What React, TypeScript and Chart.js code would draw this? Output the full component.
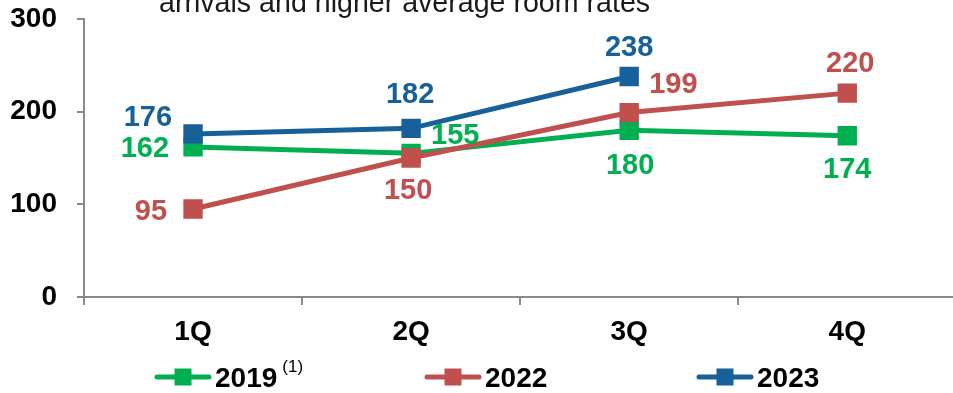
import React, { useEffect, useRef } from "react";
import { Chart, registerables } from "chart.js";

Chart.register(...registerables);

// ---- data ----
const quarters = ["1Q", "2Q", "3Q", "4Q"];
const series2019 = [162, 155, 180, 174];
const series2022 = [95, 150, 199, 220];
const series2023 = [176, 182, 238];
const yTickValues = [0, 100, 200, 300];
const seriesNames = ["2019", "2022", "2023"];
const headerText = "arrivals and higher average room rates";
const footnoteMark = "(1)";

// ---- styles ----
const GREEN = "#00B050";
const RED = "#C0504D";
const BLUE = "#17609A";
const AXIS = "#8A8A8A";
const FONT = "'Liberation Sans', Arial, sans-serif";

// label placement relative to each point: [dx, dy, textAlign]
const labelPos2019: [number, number, CanvasTextAlign][] = [
  [-24, 0, "right"],
  [20, -20, "left"],
  [1, 33, "center"],
  [0, 32, "center"],
];
const labelPos2022: [number, number, CanvasTextAlign][] = [
  [-26, 1, "right"],
  [-3, 31, "center"],
  [20, -30, "left"],
  [3, -32, "center"],
];
const labelPos2023: [number, number, CanvasTextAlign][] = [
  [-21, -18, "right"],
  [-1, -36, "center"],
  [0, -31, "center"],
];
const legendX = [155, 425, 697];

export default function App() {
  const ref = useRef<HTMLCanvasElement | null>(null);

  useEffect(() => {
    if (!ref.current) return;
    const labelPositions = [labelPos2019, labelPos2022, labelPos2023];

    const dataLabels = {
      id: "dataLabels",
      afterDatasetsDraw(chart: any) {
        const ctx = chart.ctx;
        ctx.save();
        ctx.font = `bold 29px ${FONT}`;
        ctx.textBaseline = "alphabetic";
        chart.data.datasets.forEach((ds: any, di: number) => {
          const meta = chart.getDatasetMeta(di);
          meta.data.forEach((pt: any, i: number) => {
            const v = ds.data[i];
            if (v == null) return;
            const [dx, dy, align] = labelPositions[di][i];
            ctx.fillStyle = ds.borderColor;
            ctx.textAlign = align;
            ctx.fillText(String(v), pt.x + dx, pt.y + dy + 10.4);
          });
        });
        ctx.restore();
      },
    };

    const extras = {
      id: "extras",
      afterDraw(chart: any) {
        const ctx = chart.ctx;
        ctx.save();
        // header (cut-off slide text)
        ctx.font = `28.6px ${FONT}`;
        ctx.fillStyle = "#1a1a1a";
        ctx.textAlign = "left";
        ctx.textBaseline = "alphabetic";
        ctx.fillText(headerText, 159, 12);
        // legend
        const ly = 377;
        chart.data.datasets.forEach((ds: any, di: number) => {
          const x = legendX[di];
          ctx.strokeStyle = ds.borderColor;
          ctx.lineWidth = 5;
          ctx.lineCap = "round";
          ctx.beginPath();
          ctx.moveTo(x + 2, ly);
          ctx.lineTo(x + 54, ly);
          ctx.stroke();
          ctx.fillStyle = ds.borderColor;
          ctx.fillRect(x + 28 - 8.5, ly - 8.5, 17, 17);
          ctx.fillStyle = "#000";
          ctx.font = `bold 28px ${FONT}`;
          ctx.textAlign = "left";
          ctx.fillText(ds.label, x + 60, ly + 10);
          if (di === 0) {
            const w = ctx.measureText(ds.label).width;
            ctx.font = `17px ${FONT}`;
            ctx.fillText(footnoteMark, x + 60 + w + 5, ly - 5);
          }
        });
        ctx.restore();
      },
    };

    const mk = (label: string, data: number[], color: string, order: number) => ({
      label,
      data,
      borderColor: color,
      backgroundColor: color,
      borderWidth: 5,
      tension: 0,
      pointStyle: "rect",
      pointRadius: 13.7,
      pointHoverRadius: 13.7,
      pointBorderWidth: 0,
      pointBackgroundColor: color,
      order,
    });

    const chart = new Chart(ref.current, {
      type: "line",
      data: {
        labels: quarters,
        datasets: [
          mk(seriesNames[0], series2019, GREEN, 2),
          mk(seriesNames[1], series2022, RED, 1),
          mk(seriesNames[2], series2023, BLUE, 0),
        ],
      },
      options: {
        responsive: false,
        animation: false,
        devicePixelRatio: 1,
        layout: { padding: { top: 19, right: 8, left: 0, bottom: 0 } },
        plugins: {
          legend: { display: false },
          tooltip: { enabled: false },
          title: { display: false },
        },
        scales: {
          x: {
            type: "category",
            offset: true,
            grid: {
              offset: true,
              drawOnChartArea: false,
              drawTicks: true,
              tickLength: 8,
              color: AXIS,
              lineWidth: 2,
            },
            border: { color: AXIS, width: 2 },
            ticks: {
              padding: 10,
              color: "#000",
              font: { family: FONT, size: 28, weight: "bold" },
            },
            afterFit: (scale: any) => {
              scale.height = 96;
              scale.paddingLeft = 0;
              scale.paddingRight = 0;
            },
          },
          y: {
            min: 0,
            max: 300,
            afterBuildTicks: (scale: any) => {
              scale.ticks = yTickValues.map((v) => ({ value: v }));
            },
            grid: {
              drawOnChartArea: false,
              drawTicks: true,
              tickLength: 7,
              color: AXIS,
              lineWidth: 2,
            },
            border: { color: AXIS, width: 2 },
            ticks: {
              padding: 20,
              color: "#000",
              font: { family: FONT, size: 28, weight: "bold" },
            },
            afterFit: (scale: any) => {
              scale.width = 84;
              scale.paddingTop = 0;
              scale.paddingBottom = 0;
            },
          },
        },
      } as any,
      plugins: [dataLabels, extras],
    });
    return () => chart.destroy();
  }, []);

  return (
    <div
      style={{
        position: "fixed",
        left: 0,
        top: 0,
        width: "100vw",
        height: "100vh",
        overflow: "hidden",
        background: "#fff",
      }}
    >
      <canvas ref={ref} width={970} height={393} style={{ display: "block" }} />
    </div>
  );
}
